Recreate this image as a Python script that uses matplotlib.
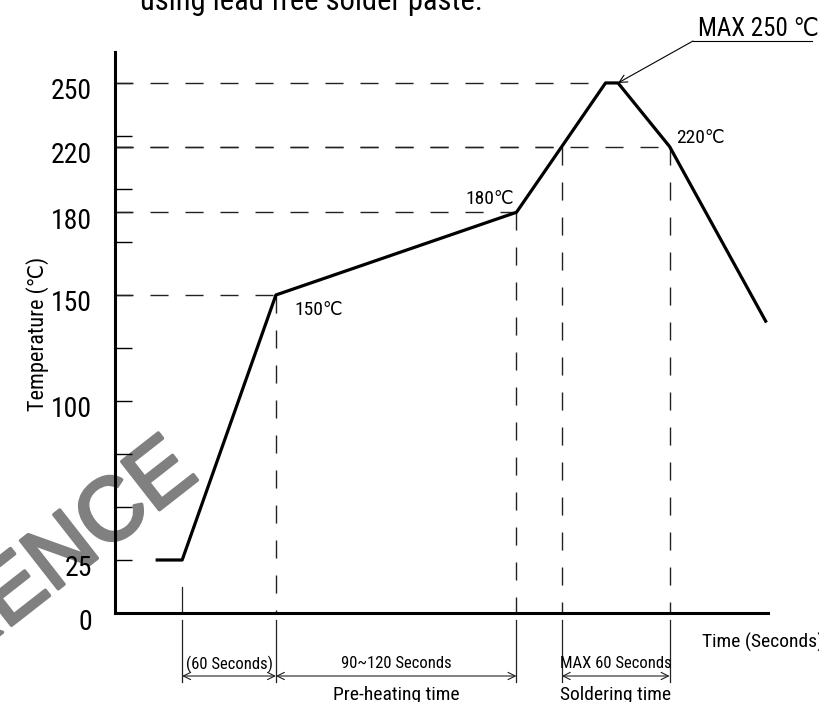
import numpy as np
import matplotlib
matplotlib.use('Agg')
import matplotlib.pyplot as plt
from matplotlib import transforms, font_manager, patheffects
from matplotlib.lines import Line2D

plt.rcParams['lines.scale_dashes'] = False

# reflow profile for lead free solder paste (schematic)
time_s = [26, 43, 103, 257, 286, 314, 322, 355, 417]
temp_c = [25, 25, 150, 180, 220, 250, 250, 220, 137]

ytick_temps = [0, 25, 100, 150, 180, 220, 250]

# the drawing is not to scale: where each labelled temperature sits on the axis
scale_temps = [-100, 0, 150, 180, 220, 250, 400]
scale_drawn = [-100, 0, 150, 189, 220, 250, 400]

# guide lines (time, temperature) and the dimension spans under the axis
guides = [(103, 150), (257, 180), (286, 220), (355, 220)]
peak = (314, 250)
spans = [(43, 103, '(60 Seconds)'), (103, 257, '90~120 Seconds'),
         (286, 355, 'MAX 60 Seconds')]
phases = [(103, 257, 'Pre-heating time'), (286, 355, 'Soldering time')]


def pick_narrow_font():
    # a condensed face looks closest to the drafting lettering
    narrow_words = ('Narrow', 'Condensed')
    narrow_stretch = ('condensed', 'semi-condensed', 'extra-condensed')
    found = []
    for f in font_manager.fontManager.ttflist:
        if f.style != 'normal' or f.weight not in (400, 'normal', 'regular'):
            continue
        if any(w in f.name for w in narrow_words) or f.stretch in narrow_stretch:
            found.append(f)
    order = ['Liberation Sans Narrow', 'Roboto Condensed', 'Noto Sans',
             'Open Sans', 'DejaVu Sans']
    found.sort(key=lambda f: next((i for i, n in enumerate(order) if f.name.startswith(n)), 99))
    return found[0] if found else None


narrow = pick_narrow_font()
if narrow is not None:
    narrow_props = dict(family=[narrow.name, 'DejaVu Sans'], stretch=narrow.stretch)
    k = 1.0
else:
    narrow_props = dict(family=['DejaVu Sans'])
    k = 0.75


def fwd(t):
    return np.interp(t, scale_temps, scale_drawn)


def inv(d):
    return np.interp(d, scale_drawn, scale_temps)


W, H = 819, 702
fig = plt.figure(figsize=(W / 100, H / 100), dpi=100)
ax = fig.add_axes([115 / W, (H - 613) / H, 653 / W, 561 / H])
ax.patch.set_alpha(0)

ax.set_yscale('function', functions=(fwd, inv))
ax.set_xlim(0, 418)
ax.set_ylim(0, 264.6)

for side in ['top', 'right']:
    ax.spines[side].set_visible(False)
for side in ['left', 'bottom']:
    ax.spines[side].set_linewidth(2.2)

ax.set_xticks([])
ax.set_yticks(ytick_temps)
ax.set_yticklabels([str(v) for v in ytick_temps], **narrow_props)
ax.set_yticks(inv(np.arange(25, 275, 25)), minor=True)
ax.tick_params(axis='y', which='both', direction='in', length=12.2, width=1.0,
               pad=16.5, labelsize=20 * k)
shift = transforms.ScaledTranslation(0, -0.06, fig.dpi_scale_trans)
for lab in ax.get_yticklabels():
    lab.set_transform(lab.get_transform() + shift)

dash = (0, (13, 12.2))
dash_kw = dict(color='#222222', lw=1.0, linestyle=dash)
for t, T in guides + [peak]:
    ax.plot([0, t], [T, T], **dash_kw)
for t, T in guides:
    ax.plot([t, t], [T, 0], **dash_kw)

# the profile itself
ax.plot(time_s, temp_c, color='black', lw=2.3, solid_joinstyle='round',
        solid_capstyle='butt', zorder=5)

# point labels
ax.annotate('150℃', xy=(103, 150), xytext=(13, -11), textcoords='offset points',
            ha='left', va='center', fontsize=14 * k, **narrow_props)
ax.annotate('180℃', xy=(257, 180), xytext=(-2, 9.5), textcoords='offset points',
            ha='right', va='center', fontsize=14 * k, **narrow_props)
ax.annotate('220℃', xy=(355, 220), xytext=(5, 6), textcoords='offset points',
            ha='left', va='center', fontsize=14 * k, **narrow_props)

# MAX 250 leader
ax.annotate('', xy=(322, 250), xytext=(693, H - 41), textcoords='figure pixels',
            arrowprops=dict(arrowstyle='->', lw=0.8, color='black',
                            mutation_scale=14, shrinkA=0, shrinkB=0))
fig.add_artist(Line2D([693 / W, 812 / W], [1 - 41 / H] * 2, color='black', lw=0.8))
fig.text(698 / W, 1 - 36 / H, 'MAX 250 ℃', fontsize=18 * k, ha='left',
         va='baseline', **narrow_props)

# dimension lines below the time axis
ext = ax.get_xaxis_transform()
ax.plot([43, 43], [0, 26 / 561], color='#222222', lw=0.9, transform=ext, clip_on=False)
for x in sorted({s[0] for s in spans} | {s[1] for s in spans}):
    ax.plot([x, x], [-7 / 561, -69 / 561], color='#222222', lw=0.9,
            transform=ext, clip_on=False)
for x0, x1, label in spans:
    ax.annotate('', xy=(x0, -63 / 561), xytext=(x1, -63 / 561), xycoords=ext,
                textcoords=ext, annotation_clip=False,
                arrowprops=dict(arrowstyle='<->', lw=0.8, color='#222222',
                                mutation_scale=13, shrinkA=0, shrinkB=0))
    ax.text((x0 + x1) / 2, -51 / 561, label, transform=ext, ha='center',
            va='center', fontsize=12 * k, **narrow_props)
for x0, x1, label in phases:
    ax.text((x0 + x1) / 2, -82 / 561, label, transform=ext, ha='center',
            va='center', fontsize=14 * k, **narrow_props)

ax.text(0.992, -29 / 561, 'Time (Seconds)', transform=ax.transAxes, ha='center',
        va='center', fontsize=14 * k, **narrow_props)
fig.text(38 / W, 1 - 334 / H, 'Temperature (℃)', rotation=90, ha='center',
         va='center', fontsize=16 * k, **narrow_props)
fig.text(140 / W, 1 - 10 / H, 'using lead free solder paste.', ha='left',
         va='baseline', fontsize=22 * k, **narrow_props)

# grey stamp across the lower left, filled through a stroke effect
fig.text(200 / W, 1 - 478 / H, 'REFERENCE', rotation=38, rotation_mode='anchor',
         ha='right', va='baseline', family='Liberation Sans', fontsize=64,
         color='#808080', zorder=-1,
         path_effects=[patheffects.Stroke(linewidth=2.5, foreground='#808080'),
                       patheffects.Normal()])

fig.savefig('out.png', dpi=100)
